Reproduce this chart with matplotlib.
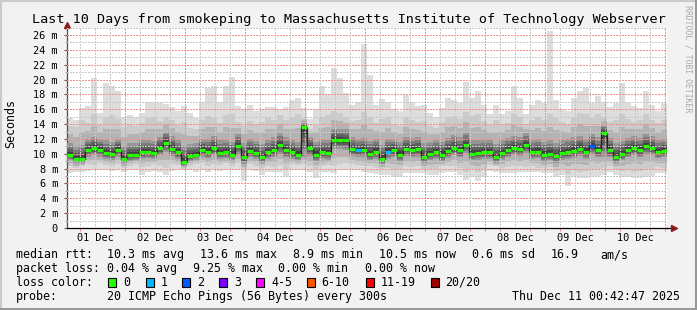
import numpy as np
import matplotlib
matplotlib.use('Agg')
import matplotlib.pyplot as plt

MONO = 'DejaVu Sans Mono'

# time axis: 100 columns of 2.4 h, graph starts Dec 01 00:42:47
START_H = 42 / 60 + 47 / 3600
STEP_H = 2.4
N_DAYS = 10

day_labels = ['01 Dec', '02 Dec', '03 Dec', '04 Dec', '05 Dec',
              '06 Dec', '07 Dec', '08 Dec', '09 Dec', '10 Dec']

# median rtt per column (ms)
median = [9.9, 9.3, 9.3, 10.5, 10.8, 10.5, 10.1, 10.0, 10.5, 9.3,
          9.8, 9.8, 10.2, 10.3, 10.1, 10.8, 11.5, 10.7, 10.2, 8.9,
          9.7, 9.9, 10.5, 10.3, 10.8, 10.1, 10.2, 9.9, 11.0, 9.5,
          10.4, 10.1, 9.5, 10.2, 10.5, 11.2, 10.5, 10.2, 9.9, 13.6,
          10.8, 9.9, 10.2, 10.1, 11.9, 11.8, 11.8, 10.6, 10.45, 10.5,
          10.0, 10.3, 9.3, 10.3, 10.5, 9.9, 10.7, 10.5, 10.6, 9.6,
          10.0, 10.2, 9.9, 10.4, 10.8, 10.5, 11.2, 10.0, 10.1, 10.2,
          10.2, 9.6, 10.1, 10.5, 10.8, 10.7, 11.2, 10.2, 10.3, 9.9,
          10.0, 9.7, 10.1, 10.2, 10.4, 10.7, 10.3, 11.1, 10.5, 12.8,
          10.5, 9.6, 10.0, 10.5, 10.8, 10.5, 11.1, 10.8, 10.3, 10.4]

# smoke envelope: slowest ping per column
ping_max = [14.8, 14.5, 16.2, 16.5, 20.2, 15.5, 19.5, 19.1, 18.4, 15.0,
            15.2, 15.0, 15.5, 17.0, 17.0, 16.8, 16.7, 16.3, 15.7, 16.5,
            15.5, 14.8, 17.0, 18.8, 19.1, 17.0, 19.1, 20.4, 16.5, 16.0,
            16.6, 15.7, 16.0, 16.3, 16.3, 16.0, 16.3, 17.2, 17.5, 16.2,
            14.7, 16.0, 19.1, 18.0, 21.5, 20.2, 18.2, 16.6, 17.0, 24.8,
            20.6, 16.6, 17.4, 17.0, 16.0, 15.7, 17.9, 17.0, 16.5, 16.6,
            15.5, 15.0, 16.2, 17.5, 17.3, 16.8, 19.7, 17.5, 18.4, 16.6,
            15.3, 16.6, 15.3, 15.7, 19.1, 17.5, 15.3, 16.6, 17.3, 16.8,
            26.6, 17.3, 16.0, 15.8, 17.5, 18.5, 18.8, 16.8, 17.8, 17.0,
            16.3, 16.9, 19.5, 16.8, 16.4, 16.2, 18.5, 16.6, 15.8, 16.8]

ping_p90 = [13.8, 13.6, 14.6, 14.2, 15.3, 13.9, 14.9, 15.2, 14.7, 13.6,
            13.9, 13.7, 14.1, 14.8, 15.0, 14.4, 14.9, 14.5, 13.9, 14.3,
            13.5, 13.4, 14.6, 15.1, 14.8, 14.2, 15.2, 15.4, 14.3, 13.8,
            14.4, 14.0, 14.3, 14.9, 14.5, 15.2, 14.6, 14.9, 15.3, 14.8,
            13.3, 13.9, 15.0, 15.2, 15.8, 15.5, 15.0, 14.4, 14.6, 15.6,
            15.0, 14.2, 14.7, 14.9, 13.9, 13.8, 14.9, 14.6, 14.3, 14.4,
            13.7, 13.5, 14.3, 15.0, 15.1, 14.7, 15.6, 15.1, 15.4, 14.4,
            13.9, 14.6, 14.0, 14.2, 15.3, 14.9, 14.0, 14.5, 14.9, 14.6,
            15.4, 14.8, 14.3, 13.9, 15.0, 15.5, 15.4, 14.8, 15.3, 14.9,
            14.3, 14.6, 15.4, 14.7, 14.3, 14.5, 15.3, 14.6, 14.1, 14.5]

ping_p70 = [11.4, 11.0, 11.2, 12.0, 12.3, 12.0, 11.8, 11.6, 12.0, 11.0,
            11.4, 11.5, 11.8, 11.9, 11.7, 12.3, 13.0, 12.4, 11.9, 11.0,
            11.3, 11.5, 12.0, 12.0, 12.4, 11.8, 11.9, 11.6, 12.6, 11.5,
            12.0, 11.7, 11.3, 11.9, 12.2, 12.8, 12.2, 11.8, 11.6, 14.2,
            12.3, 11.6, 11.9, 11.9, 13.4, 13.4, 13.3, 12.2, 12.0, 12.1,
            11.7, 12.0, 11.2, 12.0, 12.0, 11.6, 12.3, 12.1, 12.2, 11.4,
            11.6, 11.8, 11.6, 12.1, 12.5, 12.2, 12.9, 11.8, 11.8, 11.9,
            11.8, 11.3, 11.8, 12.1, 12.4, 12.3, 12.8, 11.9, 12.0, 11.6,
            11.8, 11.5, 11.8, 12.0, 12.2, 12.4, 12.0, 12.7, 12.2, 13.8,
            12.1, 11.4, 11.7, 12.1, 12.4, 12.1, 12.7, 12.4, 11.9, 12.0]

ping_p30 = [9.1, 8.7, 8.7, 9.6, 9.8, 9.6, 9.3, 9.2, 9.6, 8.7,
            9.0, 9.1, 9.3, 9.4, 9.3, 9.8, 10.2, 9.7, 9.3, 8.4,
            9.0, 9.2, 9.6, 9.4, 9.8, 9.3, 9.4, 9.1, 9.9, 8.6,
            9.5, 9.3, 8.8, 9.3, 9.5, 10.0, 9.5, 9.3, 9.1, 9.6,
            9.7, 9.0, 9.3, 9.2, 10.6, 10.6, 10.5, 9.7, 9.6, 9.6,
            9.1, 9.3, 8.6, 9.3, 9.5, 9.0, 9.7, 9.5, 9.6, 8.8,
            9.1, 9.3, 9.0, 9.4, 9.8, 9.5, 10.1, 9.1, 9.2, 9.3,
            9.3, 8.8, 9.2, 9.5, 9.8, 9.7, 10.1, 9.3, 9.4, 9.0,
            9.1, 8.8, 9.2, 9.3, 9.4, 9.7, 9.3, 10.0, 9.5, 9.6,
            9.5, 8.8, 9.1, 9.5, 9.8, 9.5, 10.0, 9.8, 9.4, 9.5]

ping_p10 = [8.3, 8.1, 8.4, 8.6, 8.5, 8.7, 8.5, 8.3, 8.6, 8.1,
            8.4, 8.6, 8.2, 8.4, 8.6, 8.4, 8.1, 8.6, 8.5, 8.0,
            8.4, 8.6, 8.7, 8.4, 8.6, 8.5, 8.7, 8.4, 8.7, 7.9,
            8.6, 8.4, 8.1, 8.4, 8.2, 8.5, 8.0, 8.6, 8.5, 8.6,
            8.4, 7.9, 8.3, 8.5, 8.3, 8.6, 8.7, 8.6, 8.5, 8.3,
            8.3, 8.1, 7.9, 8.1, 7.8, 7.9, 8.3, 8.2, 8.4, 8.0,
            8.0, 7.9, 8.3, 8.3, 8.4, 8.1, 7.6, 7.9, 7.5, 7.9,
            8.5, 8.3, 8.1, 8.2, 8.4, 8.4, 8.2, 8.3, 8.1, 8.1,
            8.2, 7.7, 8.0, 7.3, 7.8, 7.6, 7.7, 7.9, 7.9, 8.1,
            8.3, 7.8, 7.7, 7.8, 7.6, 7.7, 7.9, 7.9, 8.2, 8.1]

ping_min = [7.35, 7.5, 7.6, 7.7, 7.8, 7.8, 7.8, 7.7, 7.8, 7.6,
            7.8, 7.8, 7.2, 7.6, 7.7, 7.5, 7.2, 7.7, 7.8, 7.8,
            7.8, 7.6, 7.8, 7.6, 7.8, 7.7, 7.8, 7.8, 7.8, 6.3,
            7.8, 7.7, 7.2, 7.6, 7.5, 7.6, 6.9, 7.8, 7.8, 7.8,
            7.6, 6.7, 7.6, 7.6, 7.4, 7.8, 7.8, 7.8, 7.8, 7.6,
            7.4, 7.3, 7.2, 7.2, 6.9, 6.9, 7.4, 7.4, 7.4, 7.4,
            7.2, 7.2, 7.4, 7.5, 7.5, 7.2, 6.5, 6.9, 6.3, 6.9,
            7.7, 7.6, 7.4, 7.4, 7.4, 7.6, 7.6, 7.6, 7.5, 7.4,
            7.4, 6.9, 7.2, 5.6, 6.9, 6.7, 6.7, 6.9, 7.0, 7.2,
            7.6, 7.2, 6.9, 6.9, 6.7, 6.7, 6.9, 7.0, 7.4, 7.4]

# lost pings (out of 20) for the few columns with loss
loss_cols = [48, 53, 87]
loss_pings = [1, 1, 2]

loss_labels = ['0', '1', '2', '3', '4-5', '6-10', '11-19', '20/20']
loss_palette = ['#26ff00', '#00b8ff', '#0059ff', '#7e00ff',
                '#ff00ff', '#ff5500', '#ff0000', '#a10000']

y_ticks = list(range(0, 27, 2))
y_labels = ['0'] + ['%d m' % v for v in y_ticks[1:]]

title = 'Last 10 Days from smokeping to Massachusetts Institute of Technology Webserver'
rtt_items = [(16, 'median rtt:'), (107, '10.3 ms avg'), (200, '13.6 ms max'),
             (293, '8.9 ms min'), (379, '10.5 ms now'), (472, '0.6 ms sd'),
             (551, '16.9'), (600, 'am/s')]
loss_items = [(16, 'packet loss:'), (107, '0.04 % avg'), (193, '9.25 % max'),
              (278, '0.00 % min'), (365, '0.00 % now')]
swatch_x = [108, 145.5, 182, 219, 256, 306.5, 365.5, 430.5]
probe_text = '20 ICMP Echo Pings (56 Bytes) every 300s'
stamp_text = 'Thu Dec 11 00:42:47 2025'

W, H = 697, 310
fig = plt.figure(figsize=(W / 100, H / 100), dpi=100, facecolor='#f2f2f2')

YMAX = 27.0
ax = fig.add_axes([67 / W, (H - 228) / H, 600 / W, YMAX * 7.423 / H])
ax.set_facecolor('white')

n = len(median)
edges = START_H + STEP_H * np.arange(n + 1)


def ext(a):
    a = np.asarray(a, dtype=float)
    return np.append(a, a[-1])


med = np.asarray(median)
p10 = np.asarray(ping_p10)
p30 = np.asarray(ping_p30)
p70 = np.asarray(ping_p70)
p90 = np.asarray(ping_p90)

# smoke, lighter towards the outer pings
ax.fill_between(edges, ext(ping_min), ext(ping_max), step='post', color='#dddddd', lw=0, zorder=1)
ax.fill_between(edges, ext(p10), ext(p90), step='post', color='#cbcbcb', lw=0, zorder=2)
ax.fill_between(edges, ext(p30 - 0.5 * (p30 - p10)), ext(p70 + 0.5 * (p90 - p70)),
                step='post', color='#b3b3b3', lw=0, zorder=2)
for k, shade in [(1.0, '#969696'), (0.75, '#7a7a7a'), (0.5, '#5e5e5e'), (0.25, '#424242')]:
    lo = med - k * (med - p30)
    hi = med + k * (p70 - med)
    ax.fill_between(edges, ext(lo), ext(hi), step='post', color=shade, lw=0, zorder=3)

# grid (dotted, drawn over the smoke)
dots = (0, (1, 1))
for v in range(1, 28, 2):
    ax.axhline(v, color='#c8c8c8', lw=0.8, ls=dots, antialiased=False, zorder=4)
for v in y_ticks[1:]:
    ax.axhline(v, color='#f29090', lw=0.8, ls=dots, antialiased=False, zorder=4)
for h in range(6, 24 * (N_DAYS + 1), 6):
    if h % 24:
        ax.axvline(h, color='#c8c8c8', lw=0.8, ls=dots, antialiased=False, zorder=4)
for d in range(1, N_DAYS + 1):
    ax.axvline(24 * d, color='#f29090', lw=0.8, ls=dots, antialiased=False, zorder=4)

# median line coloured by loss
colors = [loss_palette[0]] * n
for c, p in zip(loss_cols, loss_pings):
    colors[c] = loss_palette[p]
ax.step(edges, ext(median), where='post', color='#202020', lw=0.9, zorder=5)
ax.hlines(median, edges[:-1], edges[1:], colors=colors, lw=2.3, zorder=6)

ax.set_xlim(START_H, START_H + 24 * N_DAYS)
ax.set_ylim(0, YMAX)

ax.set_xticks([24 * d + 12 for d in range(N_DAYS)])
ax.set_xticklabels(day_labels, family=MONO, fontsize=7.4)
ax.set_xticks(range(6, 24 * N_DAYS + 1, 6), minor=True)
ax.tick_params(axis='x', which='major', length=0, pad=3.5)
ax.tick_params(axis='x', which='minor', length=2, color='#d08080', direction='out')
ax.set_yticks(y_ticks)
ax.set_yticklabels(y_labels, family=MONO, fontsize=7.4)
ax.set_yticks(range(1, 28, 2), minor=True)
ax.tick_params(axis='y', which='major', length=2.5, color='#606060', direction='out', pad=4)
ax.tick_params(axis='y', which='minor', length=1.5, color='#a0a0a0', direction='out')

for s in ['top', 'right']:
    ax.spines[s].set_visible(False)
ax.spines['left'].set_color('#505050')
ax.spines['left'].set_linewidth(0.9)
ax.spines['bottom'].set_color('black')
ax.spines['bottom'].set_linewidth(0.9)

# axis arrows
ax.plot([1.0, 1.009], [0, 0], transform=ax.transAxes, color='black', lw=0.9, clip_on=False)
ax.plot([1.011], [0], marker='>', ms=5, color='#8e1a1a', transform=ax.transAxes, clip_on=False)
ax.plot([0], [1.012], marker='^', ms=5, color='#8e1a1a', transform=ax.transAxes, clip_on=False)

# texts
fig.text(0.5, 1 - 19 / H, title, family=MONO, fontsize=9.7, ha='center', va='center')
fig.text(11 / W, 1 - 124 / H, 'Seconds', family=MONO, fontsize=8.4, rotation=90,
         ha='center', va='center')
fig.text(688 / W, 1 - 59 / H, 'RRDTOOL / TOBI OETIKER', family=MONO, fontsize=5.9,
         rotation=-90, ha='center', va='center', color='#a8a8a8')

LEG = 8.4
rows_y = [254.5, 268.5, 282.3, 296.3]
for x, s in rtt_items:
    fig.text(x / W, 1 - rows_y[0] / H, s, family=MONO, fontsize=LEG, va='center')
for x, s in loss_items:
    fig.text(x / W, 1 - rows_y[1] / H, s, family=MONO, fontsize=LEG, va='center')
fig.text(16 / W, 1 - rows_y[2] / H, 'loss color:', family=MONO, fontsize=LEG, va='center')
for x, lab, col in zip(swatch_x, loss_labels, loss_palette):
    fig.patches.append(plt.Rectangle((x / W, 1 - (rows_y[2] + 4.2) / H), 8.3 / W, 8.3 / H,
                                     transform=fig.transFigure, facecolor=col,
                                     edgecolor='black', lw=0.8))
    fig.text((x + 15) / W, 1 - rows_y[2] / H, lab, family=MONO, fontsize=LEG, va='center')
fig.text(16 / W, 1 - rows_y[3] / H, 'probe:', family=MONO, fontsize=LEG, va='center')
fig.text(107 / W, 1 - rows_y[3] / H, probe_text, family=MONO, fontsize=LEG, va='center')
fig.text(680 / W, 1 - rows_y[3] / H, stamp_text, family=MONO, fontsize=LEG, va='center', ha='right')

# 3d frame
fig.add_artist(plt.Line2D([0, 1], [1 - 1 / H, 1 - 1 / H], transform=fig.transFigure, color='#cbcbcb', lw=1.5))
fig.add_artist(plt.Line2D([1 / W, 1 / W], [0, 1], transform=fig.transFigure, color='#cbcbcb', lw=1.5))
fig.add_artist(plt.Line2D([0, 1], [1.5 / H, 1.5 / H], transform=fig.transFigure, color='#999999', lw=2.2))
fig.add_artist(plt.Line2D([1 - 1.5 / W, 1 - 1.5 / W], [0, 1], transform=fig.transFigure, color='#999999', lw=2.2))

fig.savefig('out.png', dpi=100, facecolor=fig.get_facecolor())
